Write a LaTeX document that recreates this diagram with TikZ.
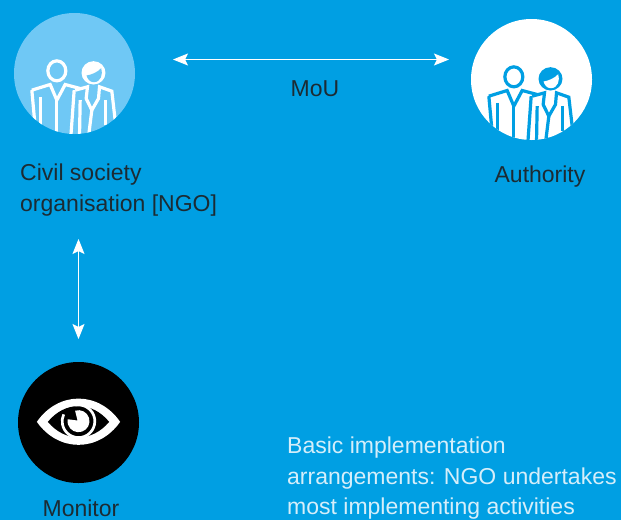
\documentclass[tikz,border=0pt]{standalone}
\usepackage{fontspec}
\setmainfont{Liberation Sans}
\usepackage{tikz}
\usetikzlibrary{arrows.meta,positioning}
\definecolor{bgblue}{HTML}{009FE3}
\definecolor{paleblue}{HTML}{6FC8F5}
\definecolor{inktext}{HTML}{1C2B33}
\definecolor{paletext}{HTML}{D5EEFA}
% two figures, measured from the centre of their disc
\newcommand{\peopleicon}[3]{
\begin{scope}
\clip (#1) circle (60.5);
\begin{scope}[shift={(#1)}, x=0.3333pt, y=-0.3333pt, draw=#2, fill=#2, line width=3.2pt, line join=miter]
\draw (-53,-8) ellipse (27 and 30);
\draw (-128,50) -- (-73,33) -- (-53,80) -- (-28,33) -- (17,45);
\draw (-53,80) -- (-53,190);
\draw (-128,50) -- (-118,160);
\draw (-103,70) -- (-103,170);
\draw (-1,50) -- (-11,190);
\draw (17,80) -- (15,190);
\draw (2,50) -- (39,40) -- (35,75) -- (52,110) -- (72,75) -- (75,40) -- (112,53) -- (122,140);
\draw (52,110) -- (42,190);
\draw (92,80) -- (92,155);
\fill (57,-2) ellipse (36 and 35);
\fill[#3] (36,6) .. controls (50,4) and (70,-4) .. (80,-16) .. controls (86,0) and (80,27) .. (57,26) .. controls (47,26) and (39,17) .. (36,6) -- cycle;
\end{scope}
\end{scope}}
\begin{document}
\begin{tikzpicture}[x=1pt, y=-1pt]
\tikzset{disc/.style={circle,minimum size=121pt,inner sep=0},
twoway/.style={{Stealth[length=15pt,width=12pt,inset=3pt]}-{Stealth[length=15pt,width=12pt,inset=3pt]},draw=white,line width=0.9pt},
labeltext/.style={font=\fontsize{23}{31}\selectfont,text=inktext,inner sep=0},
notetext/.style={font=\fontsize{23}{30.5}\selectfont,text=paletext,inner sep=0,align=left}}

\fill[bgblue] (0,0) rectangle (621,520);
\useasboundingbox (0,0) rectangle (621,520);

\node (ngo) [disc,fill=paleblue] at (74.5,73.5) {};
\node (authority) [disc,fill=white] at (531.5,79.5) {};
\node (monitor) [disc,fill=black] at (78.5,422.5) {};

\peopleicon{ngo}{white}{paleblue}
\peopleicon{authority}{bgblue}{white}

%% Eye
\begin{scope}[shift={(monitor)}, x=0.3333pt, y=-0.3333pt]
\fill[white] (-125,-2) .. controls (-60,-95) and (60,-95) .. (125,-2) .. controls (60,90) and (-60,90) .. (-125,-2) -- cycle;
\fill[black] (-92,-2) .. controls (-40,-65) and (40,-65) .. (92,-2) .. controls (40,60) and (-40,60) .. (-92,-2) -- cycle;
\draw[white,line width=2.7pt] (-8.5,-52) arc (-100:205:49);
\fill[white] (-3,-6) -- (-10.2,-35.4) arc (-108:190:33) -- cycle;
\end{scope}

\node (ngolabel) [labeltext,align=left,anchor=north west] at (20,164) {Civil society\\organisation [NGO]};
\node (authoritylabel) [labeltext,anchor=base] at (540,182) {Authority};
\node (moulabel) [labeltext,anchor=base] at (315,96) {MoU};
\node (monitorlabel) [labeltext,anchor=base] at (81,516) {Monitor};
\node (note) [notetext,anchor=north west] at (287,437) {Basic implementation\\arrangements: NGO undertakes\\most implementing activities};

%% Edges
\coordinate (mouleft) at (173,59.5);
\coordinate (mouright) at (449,59.5);
\coordinate (linktop) at (78.5,239);
\coordinate (linkbottom) at (78.5,339);
\draw[twoway] (mouleft) -- (mouright);
\draw[twoway] (linktop) -- (linkbottom);
\end{tikzpicture}
\end{document}
